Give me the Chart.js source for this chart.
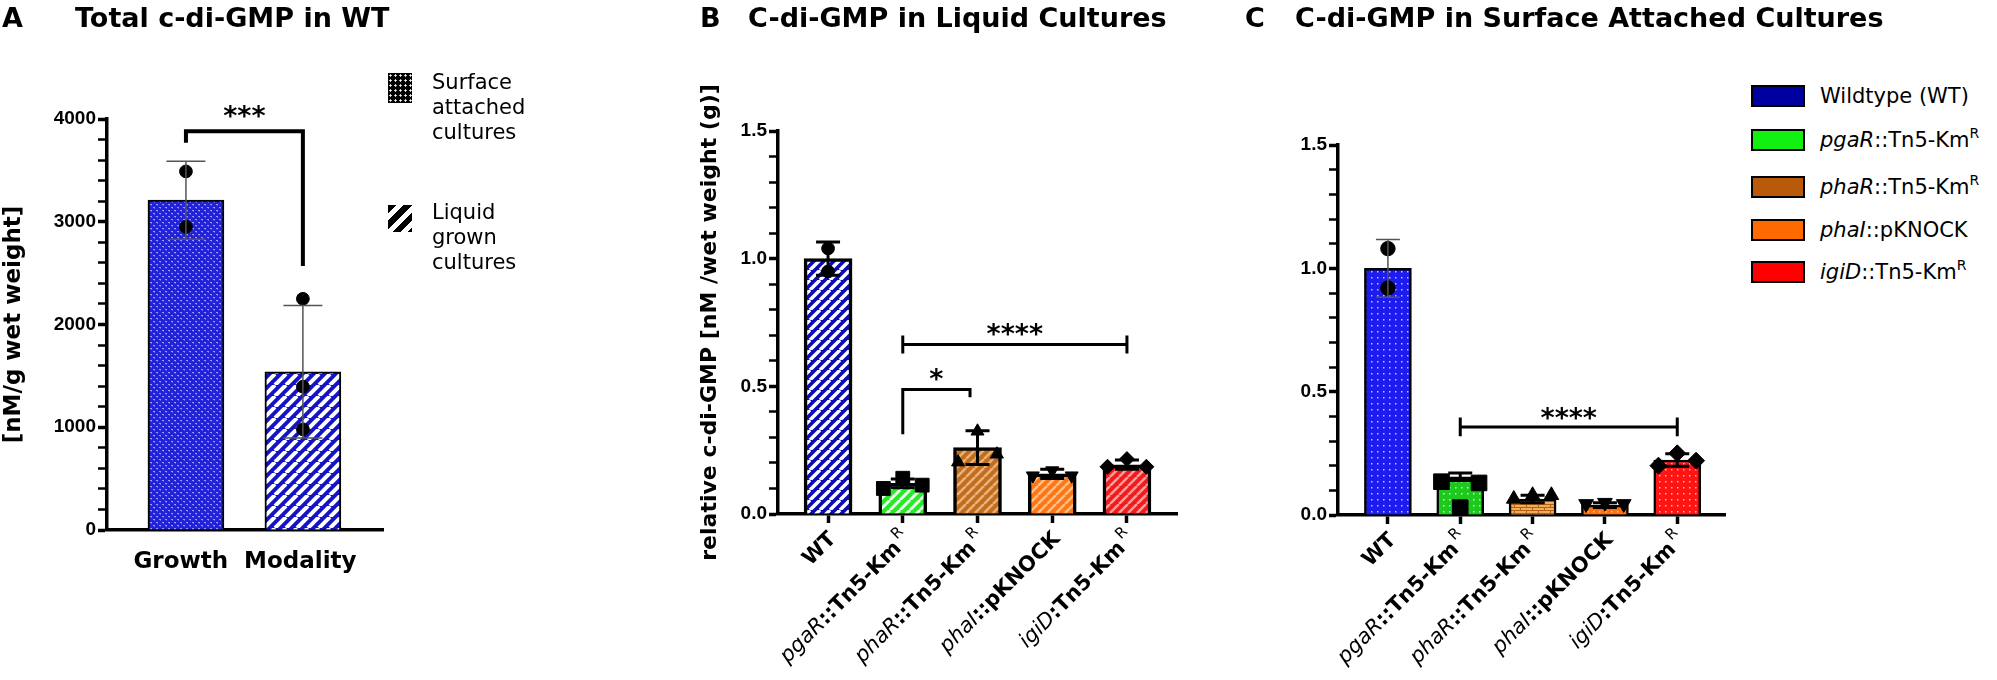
<!DOCTYPE html>
<html>
<head>
<meta charset="utf-8">
<script src="https://cdn.jsdelivr.net/npm/chart.js@4.4.1/dist/chart.umd.min.js"></script>
<style>
  body { margin: 0; background: #fff; width: 1997px; height: 680px; overflow: hidden; position: relative; font-family: 'DejaVu Sans', sans-serif; color: #000; }
  canvas { position: absolute; top: 0; }
  .t { position: absolute; top: 4px; font: bold 27px 'DejaVu Sans'; line-height: 27px; white-space: nowrap; }
  .lg { position: absolute; font: 21px 'DejaVu Sans'; line-height: 25px; white-space: nowrap; }
  .sw { position: absolute; }
  .row { position: absolute; left: 1751px; height: 22px; display: flex; align-items: center; font: 21px 'DejaVu Sans'; white-space: nowrap; }
  .box { width: 54px; height: 22px; box-sizing: border-box; border: 2px solid #000; margin-right: 15px; }
  sup { font-size: 14px; vertical-align: 9px; line-height: 0; }
</style>
</head>
<body>
<canvas id="chartA" width="560" height="680" style="left:0;width:560px;height:680px"></canvas>
<canvas id="chartB" width="580" height="680" style="left:660px;width:580px;height:680px"></canvas>
<canvas id="chartC" width="500" height="680" style="left:1250px;width:500px;height:680px"></canvas>

<div class="t" style="left:2px">A</div>
<div class="t" style="left:75px">Total c-di-GMP in WT</div>
<div class="t" style="left:700px">B</div>
<div class="t" style="left:748px">C-di-GMP in Liquid Cultures</div>
<div class="t" style="left:1245px">C</div>
<div class="t" style="left:1295px">C-di-GMP in Surface Attached Cultures</div>

<div class="sw" style="left:388px;top:73px;width:24px;height:30px;background-color:#000;background-image:radial-gradient(#fff 0.9px, transparent 1.3px);background-size:5px 5px"></div>
<div class="lg" style="left:432px;top:70px">Surface<br>attached<br>cultures</div>
<div class="sw" style="left:388px;top:205px;width:24px;height:27px;background:repeating-linear-gradient(135deg,#000 0 6px,#fff 6px 11px)"></div>
<div class="lg" style="left:432px;top:200px">Liquid<br>grown<br>cultures</div>

<div class="row" style="top:85px"><span class="box" style="background:#0000a0"></span><span>Wildtype (WT)</span></div>
<div class="row" style="top:129px"><span class="box" style="background:#12f012"></span><span><i>pgaR</i>::Tn5-Km<sup>R</sup></span></div>
<div class="row" style="top:176px"><span class="box" style="background:#b85a0a"></span><span><i>phaR</i>::Tn5-Km<sup>R</sup></span></div>
<div class="row" style="top:219px"><span class="box" style="background:#ff6a00"></span><span><i>phaI</i>::pKNOCK</span></div>
<div class="row" style="top:261px"><span class="box" style="background:#ff0000"></span><span><i>igiD</i>::Tn5-Km<sup>R</sup></span></div>

<script>
// ---- data ----
// panel A: total c-di-GMP in WT (nM/g wet weight)
const modality = ['Surface attached cultures', 'Liquid grown cultures'];
const totalMean = [3210, 1540];
const totalSd = [380, 645];
const totalPoints = [[3490, 2950], [2250, 1395, 980]];

// panels B and C: strains
const strainItalic = ['', 'pgaR', 'phaR', 'phaI', 'igiD'];
const strainName = ['WT', '::Tn5-Km', '::Tn5-Km', '::pKNOCK', ':Tn5-Km'];
const strainSup = ['', 'R', 'R', '', 'R'];

// panel B: liquid cultures, relative c-di-GMP
const liquidMean = [1.0, 0.12, 0.26, 0.157, 0.193];
const liquidSd = [0.065, 0.017, 0.066, 0.018, 0.018];
const liquidPoints = [[1.04, 0.95], [0.10, 0.14, 0.113], [0.203, 0.324, 0.234], [0.15, 0.17, 0.15], [0.185, 0.215, 0.185]];

// panel C: surface attached cultures, relative c-di-GMP
const surfaceMean = [1.0, 0.155, 0.065, 0.04, 0.223];
const surfaceSd = [0.117, 0.015, 0.015, 0.01, 0.025];
const surfacePoints = [[1.08, 0.92], [0.135, 0.03, 0.13], [0.065, 0.08, 0.08], [0.045, 0.05, 0.045], [0.2, 0.25, 0.22]];

// significance brackets (category index, value)
const sigA = [{from: 0, to: 1, y: 3880, endFrom: 3770, endTo: 2570, text: '***'}];
const sigB = [{from: 1, to: 1.9, y: 0.488, endFrom: 0.3125, endTo: 0.457, text: '*'},
              {from: 1, to: 4, y: 0.664, cap: 0.035, text: '****'}];
const sigC = [{from: 1, to: 4, y: 0.357, cap: 0.038, text: '****'}];

// ---- styling ----
Chart.defaults.font.family = "'DejaVu Sans', sans-serif";
Chart.defaults.color = '#000';

const jitter3 = [-0.26, 0, 0.26];
const markers = ['circle', 'rect', 'triangle', 'triangle', 'rectRot'];
const markerRot = [0, 0, 0, 180, 0];

function stripes(bg, fg, p, w) {
    const c = document.createElement('canvas');
    c.width = c.height = p;
    const g = c.getContext('2d');
    g.fillStyle = bg;
    g.fillRect(0, 0, p, p);
    g.strokeStyle = fg;
    g.lineWidth = w;
    g.beginPath();
    for (let k = -1; k <= 1; k++) {
        g.moveTo(k * p, p);
        g.lineTo(k * p + p, 0);
    }
    g.stroke();
    return g.createPattern(c, 'repeat');
}

function dots(bg, fg, p, s) {
    const c = document.createElement('canvas');
    c.width = c.height = p;
    const g = c.getContext('2d');
    g.fillStyle = bg;
    g.fillRect(0, 0, p, p);
    g.fillStyle = fg;
    g.fillRect(1, 1, s, s);
    return g.createPattern(c, 'repeat');
}

function weave() {
    const c = document.createElement('canvas');
    c.width = c.height = 6;
    const g = c.getContext('2d');
    g.fillStyle = '#2222d8';
    g.fillRect(0, 0, 6, 6);
    g.fillStyle = '#9a9aff';
    g.fillRect(0, 0, 2, 1);
    g.fillRect(3, 3, 2, 1);
    g.fillStyle = '#5a5af2';
    g.fillRect(1, 1, 1, 1);
    g.fillRect(4, 4, 1, 1);
    return g.createPattern(c, 'repeat');
}

function bricks(bg, fg) {
    const c = document.createElement('canvas');
    c.width = 12;
    c.height = 6;
    const g = c.getContext('2d');
    g.fillStyle = bg;
    g.fillRect(0, 0, 12, 6);
    g.fillStyle = fg;
    g.fillRect(0, 0, 12, 1);
    g.fillRect(0, 0, 1, 3);
    g.fillRect(6, 3, 1, 3);
    g.fillRect(0, 3, 12, 1);
    return g.createPattern(c, 'repeat');
}

const fillsA = [weave(), stripes('#1414c4', '#ffffff', 11, 4)];
const fillsB = [
    stripes('#0c0cb4', '#ffffff', 10, 3.5),
    stripes('#2be62b', '#e6ffe6', 10, 3),
    stripes('#c06d1e', '#eab27a', 9, 2.5),
    stripes('#ff7514', '#ffc08a', 9, 2.5),
    stripes('#f01c1c', '#ff9c9c', 9, 2.5)
];
const fillsC = [
    dots('#1c1cf0', '#c0c0ff', 6, 1.5),
    dots('#1ec81e', '#b0ffb0', 6, 1.5),
    bricks('#efad5e', '#b86010'),
    dots('#ff7010', '#ffc890', 6, 1.5),
    dots('#ff1414', '#ffb4b4', 6, 1.5)
];

function isMajor(v, step) {
    return Math.abs(v / step - Math.round(v / step)) < 1e-6;
}

const decor = {
    id: 'decor',
    afterDatasetsDraw(chart, args, o) {
        const {ctx, scales: {x, y}} = chart;
        ctx.save();
        ctx.lineJoin = 'miter';
        o.means.forEach((m, i) => {
            const px = x.getPixelForValue(i);
            const top = y.getPixelForValue(m + o.sd[i]);
            const bot = y.getPixelForValue(m - o.sd[i]);
            const thin = o.thinErr[i];
            const hw = o.capW / 2;
            ctx.strokeStyle = thin ? '#555' : '#000';
            ctx.lineWidth = thin ? 1.5 : 3;
            ctx.beginPath();
            ctx.moveTo(px, top);
            ctx.lineTo(px, bot);
            ctx.moveTo(px - hw, top);
            ctx.lineTo(px + hw, top);
            ctx.moveTo(px - hw, bot);
            ctx.lineTo(px + hw, bot);
            ctx.stroke();
        });
        ctx.strokeStyle = '#000';
        ctx.fillStyle = '#000';
        o.sig.forEach(s => {
            const x1 = x.getPixelForValue(s.from);
            const x2 = x.getPixelForValue(s.to);
            const py = y.getPixelForValue(s.y);
            ctx.lineWidth = o.sigW;
            ctx.beginPath();
            if (s.cap) {
                ctx.moveTo(x1, py);
                ctx.lineTo(x2, py);
                [x1, x2].forEach(xx => {
                    ctx.moveTo(xx, y.getPixelForValue(s.y + s.cap));
                    ctx.lineTo(xx, y.getPixelForValue(s.y - s.cap));
                });
            } else {
                ctx.moveTo(x1, y.getPixelForValue(s.endFrom));
                ctx.lineTo(x1, py);
                ctx.lineTo(x2, py);
                ctx.lineTo(x2, y.getPixelForValue(s.endTo));
            }
            ctx.stroke();
            ctx.font = 'bold 27px "DejaVu Sans"';
            ctx.textAlign = 'center';
            ctx.textBaseline = 'alphabetic';
            ctx.fillText(s.text, (x1 + x2) / 2, py - o.starGap);
        });
        ctx.restore();
    },
    afterDraw(chart, args, o) {
        if (!o.rich) return;
        const {ctx, scales: {x}} = chart;
        strainName.forEach((name, i) => {
            const segs = [];
            if (strainItalic[i]) segs.push({t: strainItalic[i], font: 'italic 21px "DejaVu Sans"', dy: 0, gap: 0});
            segs.push({t: name, font: 'bold 21px "DejaVu Sans"', dy: 0, gap: 0});
            if (strainSup[i]) segs.push({t: strainSup[i], font: '15px "DejaVu Sans"', dy: -9, gap: 3});
            ctx.save();
            ctx.translate(x.getPixelForValue(i) + 5, x.top + 22);
            ctx.rotate(-Math.PI / 4);
            ctx.textAlign = 'left';
            ctx.textBaseline = 'middle';
            ctx.fillStyle = '#000';
            let total = 0;
            segs.forEach(s => { ctx.font = s.font; s.w = ctx.measureText(s.t).width + s.gap; total += s.w; });
            let cx = -total;
            segs.forEach(s => {
                ctx.font = s.font;
                ctx.fillText(s.t, cx + s.gap, s.dy);
                cx += s.w;
            });
            ctx.restore();
        });
    }
};

function makePanel(id, o) {
    const cats = o.means.map((_, i) => i);
    const bars = o.means.map((v, i) => ({x: i, y: v}));
    const pts = [];
    o.points.forEach((grp, i) => grp.forEach((v, k) => {
        pts.push({x: i + (o.jitter && grp.length === 3 ? jitter3[k] : 0), y: v, cat: i});
    }));
    const yTitle = o.yTitle ? {display: true, text: o.yTitle, font: {size: o.yTitleSize, weight: 'bold'}, padding: {top: o.yTitlePad, bottom: 0}} : {display: false};
    const xTitle = o.xTitle ? {display: true, text: o.xTitle, font: {size: 23, weight: 'bold'}, padding: {top: 0, bottom: o.xTitlePad}} : {display: false};

    new Chart(document.getElementById(id), {
        type: 'bar',
        data: {
            datasets: [{
                type: 'bar',
                data: bars,
                backgroundColor: o.fills,
                borderColor: '#000',
                borderWidth: o.barBorder,
                barThickness: o.barWidth,
                order: 2
            }, {
                type: 'scatter',
                data: pts,
                pointStyle: c => o.markers ? markers[c.raw.cat] : 'circle',
                rotation: c => o.markers ? markerRot[c.raw.cat] : 0,
                pointRadius: c => {
                    const st = o.markers ? markers[c.raw.cat] : 'circle';
                    return st === 'rect' ? o.markerR * 1.3 : (st === 'circle' ? o.markerR * 0.85 : o.markerR);
                },
                backgroundColor: '#000',
                borderColor: '#000',
                borderWidth: 1,
                order: 1
            }]
        },
        options: {
            responsive: false,
            animation: false,
            events: [],
            layout: {padding: {left: 0, top: o.top, right: o.right, bottom: 0}},
            plugins: {
                legend: {display: false},
                tooltip: {enabled: false},
                decor: {means: o.means, sd: o.sd, thinErr: o.thinErr, capW: o.capW, sig: o.sig, sigW: o.sigW, starGap: o.starGap, rich: o.rich}
            },
            scales: {
                x: {
                    type: 'linear',
                    min: o.xmin,
                    max: o.xmax,
                    offset: false,
                    afterBuildTicks: s => { s.ticks = cats.map(v => ({value: v})); },
                    afterFit: s => { s.height = o.xh; },
                    border: {display: true, color: '#000', width: 3.5},
                    grid: {display: true, offset: false, drawOnChartArea: false, drawTicks: o.xTicks, tickLength: 9, tickWidth: 3.5, tickColor: '#000'},
                    ticks: {autoSkip: false, maxRotation: 0, callback: () => ''},
                    title: xTitle
                },
                y: {
                    min: 0,
                    max: o.ymax,
                    afterFit: s => { s.width = o.yw; },
                    border: {display: true, color: '#000', width: 3.5},
                    grid: {
                        display: true,
                        drawOnChartArea: false,
                        tickLength: 9,
                        tickColor: '#000',
                        tickWidth: c => (c.tick && isMajor(c.tick.value, o.major)) ? 3.5 : 2.5
                    },
                    ticks: {
                        stepSize: o.minor,
                        autoSkip: false,
                        padding: 2,
                        color: '#000',
                        font: {family: "'Liberation Sans', Arial, sans-serif", size: 19, weight: 'bold'},
                        callback: v => isMajor(v, o.major) ? (o.major >= 1 ? String(Math.round(v)) : v.toFixed(1)) : ''
                    },
                    title: yTitle
                }
            }
        },
        plugins: [decor]
    });
}

makePanel('chartA', {
    means: totalMean, sd: totalSd, points: totalPoints, fills: fillsA,
    thinErr: [true, true], capW: 39, sig: sigA, sigW: 4, starGap: 6,
    barBorder: 2, barWidth: 76, markerR: 7.5, markers: false, jitter: false, rich: false,
    xmin: -0.675, xmax: 1.685, ymax: 4000, major: 1000, minor: 200,
    top: 119, right: 177, xh: 150, yw: 107, xTicks: false,
    yTitle: '[nM/g wet weight]', yTitleSize: 23, yTitlePad: 0,
    xTitle: 'Growth  Modality', xTitlePad: 104
});

makePanel('chartB', {
    means: liquidMean, sd: liquidSd, points: liquidPoints, fills: fillsB,
    thinErr: [false, false, false, false, false], capW: 24, sig: sigB, sigW: 3, starGap: 1,
    barBorder: 3.5, barWidth: 48, markerR: 7.5, markers: true, jitter: true, rich: true,
    xmin: -0.67, xmax: 4.67, ymax: 1.5, major: 0.5, minor: 0.1,
    top: 131, right: 63, xh: 166, yw: 118, xTicks: true,
    yTitle: 'relative c-di-GMP [nM /wet weight (g)]', yTitleSize: 22, yTitlePad: 37
});

makePanel('chartC', {
    means: surfaceMean, sd: surfaceSd, points: surfacePoints, fills: fillsC,
    thinErr: [true, false, false, false, false], capW: 24, sig: sigC, sigW: 3, starGap: 0,
    barBorder: 2.5, barWidth: 47, markerR: 8.5, markers: true, jitter: true, rich: true,
    xmin: -0.69, xmax: 4.66, ymax: 1.5, major: 0.5, minor: 0.1,
    top: 145, right: 25, xh: 165, yw: 88, xTicks: true
});
</script>
</body>
</html>
